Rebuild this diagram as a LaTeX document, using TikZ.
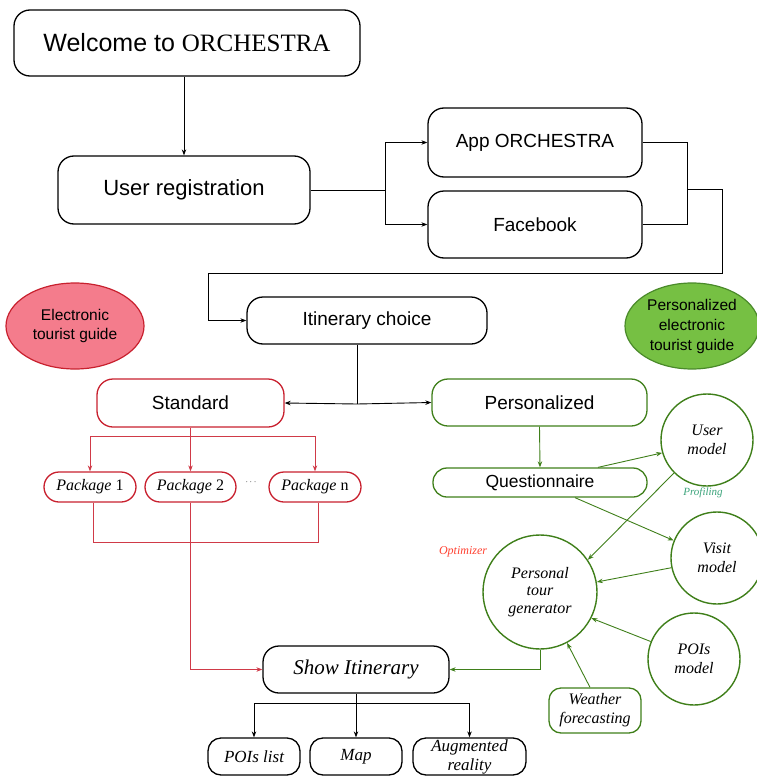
\documentclass[tikz,border=0pt]{standalone}
\usepackage{fontspec}
\setmainfont{Liberation Serif}
\setsansfont{Liberation Sans}
\usetikzlibrary{arrows.meta,shapes.geometric}
\definecolor{redc}{HTML}{C8202E}
\definecolor{redl}{HTML}{D03A48}
\definecolor{greenc}{HTML}{3F7F1A}
\definecolor{pinkc}{HTML}{F47C8C}
\definecolor{greenf}{HTML}{76C043}
\definecolor{greene}{HTML}{4A8A2A}
\definecolor{tealc}{HTML}{3AA37A}
\definecolor{optc}{HTML}{FF4030}
\begin{document}
\begin{tikzpicture}[x=1pt,y=-1pt,
  box/.style={draw, line width=1.3pt, inner sep=0pt, align=center, rounded corners=14pt},
  redbox/.style={box, draw=redc},
  grbox/.style={box, draw=greenc},
  circ/.style={circle, draw=greenc, line width=1.4pt, inner sep=0pt, align=center, minimum size=92pt,
    font=\itshape\fontsize{16}{18.5}\selectfont},
  sf/.style={font=\sffamily\fontsize{#1}{#1}\selectfont},
  it/.style={font=\itshape\fontsize{#1}{19}\selectfont},
  conn/.style={line width=0.9pt, -{Stealth[length=6pt,width=4.5pt]}},
  line/.style={line width=0.9pt},
  rconn/.style={conn, draw=redl},
  rline/.style={line, draw=redl},
  gconn/.style={conn, draw=greenc},
  gline/.style={line, draw=greenc}
]
\useasboundingbox (0,0) rectangle (757,776);

% top
\node[box, minimum width=346pt, minimum height=66pt, rounded corners=16pt] (welcome) at (187,43)
  {\fontsize{25}{25}\selectfont\sffamily Welcome to \rmfamily ORCHESTRA};
\node[box, sf=22, minimum width=252pt, minimum height=68pt, rounded corners=16pt] (userreg) at (184,190) {User registration};
\node[box, sf=19, minimum width=214pt, minimum height=69pt, rounded corners=16pt] (app) at (535,142.5) {App ORCHESTRA};
\node[box, sf=19, minimum width=214pt, minimum height=67pt, rounded corners=16pt] (fb) at (535,224.5) {Facebook};
\node[box, sf=19, minimum width=240pt, minimum height=47pt, rounded corners=16pt] (itin) at (367,320.5) {Itinerary choice};

% ellipses
\node[ellipse, draw=redc, fill=pinkc, line width=1.2pt, minimum width=138pt, minimum height=86pt, inner sep=0pt,
  align=center, font=\sffamily\fontsize{15.5}{19}\selectfont] (etg) at (75,326) {Electronic\\tourist guide};
\node[ellipse, draw=greene, fill=greenf, line width=1.2pt, minimum width=134pt, minimum height=86pt, inner sep=0pt,
  align=center, font=\sffamily\fontsize{15.5}{20}\selectfont] (petg) at (692,326) {Personalized\\electronic\\tourist guide};

% standard branch
\node[redbox, sf=19, minimum width=187pt, minimum height=48pt, rounded corners=16pt] (standard) at (190.5,403) {Standard};
\node[redbox, font=\fontsize{16}{16}\selectfont, minimum width=92pt, minimum height=30pt, rounded corners=15pt] (pkg1) at (90,487) {\textit{Package} 1};
\node[redbox, font=\fontsize{16}{16}\selectfont, minimum width=91pt, minimum height=30pt, rounded corners=15pt] (pkg2) at (190.5,487) {\textit{Package} 2};
\node[redbox, font=\fontsize{16}{16}\selectfont, minimum width=92pt, minimum height=30pt, rounded corners=15pt] (pkgn) at (315,487) {\textit{Package} n};
\node[inner sep=0pt] (dots) at (251,482) {\fontsize{9}{9}\selectfont$\cdots$};

% personalized branch
\node[grbox, sf=19, minimum width=215pt, minimum height=47pt, rounded corners=16pt] (pers) at (539.5,402.5) {Personalized};
\node[grbox, sf=17.5, minimum width=214pt, minimum height=29pt, rounded corners=14pt] (quest) at (540,482.5) {Questionnaire};
\node[circ] (um) at (707,440) {User\\model};
\node[circ] (vm) at (717,558) {Visit\\model};
\node[circ] (pm) at (694,659) {POIs\\model};
\node[circ, minimum size=114pt, font=\itshape\fontsize{16}{17.5}\selectfont] (ptg) at (540,592) {Personal\\tour\\generator};
\node[grbox, it=16, minimum width=92pt, minimum height=45pt, rounded corners=12pt] (weather) at (595,710.5) {Weather\\forecasting};
\node[font=\itshape\fontsize{11}{11}\selectfont, text=tealc, inner sep=0pt] (prof) at (703,493) {Profiling};
\node[font=\itshape\fontsize{12}{12}\selectfont, text=optc, inner sep=0pt] (opt) at (463,552) {Optimizer};

% show itinerary
\node[box, it=21, minimum width=186pt, minimum height=47pt, rounded corners=16pt] (show) at (356,669.5) {Show Itinerary};
\node[box, it=17, minimum width=92pt, minimum height=37pt, rounded corners=13pt] (poil) at (254,756.5) {POIs list};
\node[box, it=17, minimum width=92pt, minimum height=37pt, rounded corners=13pt] (map) at (356,756.5) {Map};
\node[box, font=\itshape\fontsize{17}{19}\selectfont, minimum width=113pt, minimum height=37pt, rounded corners=13pt] (ar) at (469.5,756.5) {Augmented\\reality};

% connectors top
\draw[conn] (welcome.south -| userreg.north) -- (userreg.north);
\coordinate (sp) at (385,190);
\draw[line] (userreg.east) -- (sp);
\draw[conn] (sp) |- (app.west);
\draw[conn] (sp) |- (fb.west);
\coordinate (mj) at (687,189);
\coordinate (c1) at (722,189);
\coordinate (c2) at (722,273);
\coordinate (c3) at (208,273);
\draw[line] (app.east) -| (mj);
\draw[line] (fb.east) -| (mj);
\draw[conn] (mj) -- (c1) -- (c2) -- (c3) |- (itin.west);
\coordinate (it1) at (357,404);
\draw[line] (itin.south -| it1) -- (it1);
\draw[conn] (it1) -- (standard.east);
\draw[conn] (it1) -- (pers.west);

% red tree
\coordinate (rb) at (190.5,436);
\draw[rline] (standard.south) -- (rb);
\draw[rconn] (rb) -| (pkg1.north);
\draw[rconn] (rb) -- (pkg2.north);
\draw[rconn] (rb) -| (pkgn.north);
\coordinate (rj) at (93,542);
\draw[rline] ([xshift=3pt]pkg1.south) -- (rj) -| ([xshift=3pt]pkgn.south);
\draw[rconn] (pkg2.south) |- (show.west);

% green
\draw[gconn] (pers.south) -- (quest.north);
\draw[gconn] ([xshift=58pt]quest.north) -- (um.196);
\draw[gconn] ([xshift=35pt]quest.south) -- (vm.158);
\draw[gconn] (um.225) -- (ptg.34);
\draw[gconn] (vm.192) -- (ptg.10);
\draw[gconn] (pm.158) -- (ptg.333);
\draw[gconn] ([xshift=-5pt]weather.north) -- (ptg.298);
\draw[gconn] (ptg.south) |- (show.east);

% bottom tree
\coordinate (sb) at (356,703);
\draw[line] (show.south) -- (sb);
\draw[conn] (sb) -| (poil.north);
\draw[conn] (sb) -- (map.north);
\draw[conn] (sb) -| (ar.north);
\end{tikzpicture}
\end{document}
